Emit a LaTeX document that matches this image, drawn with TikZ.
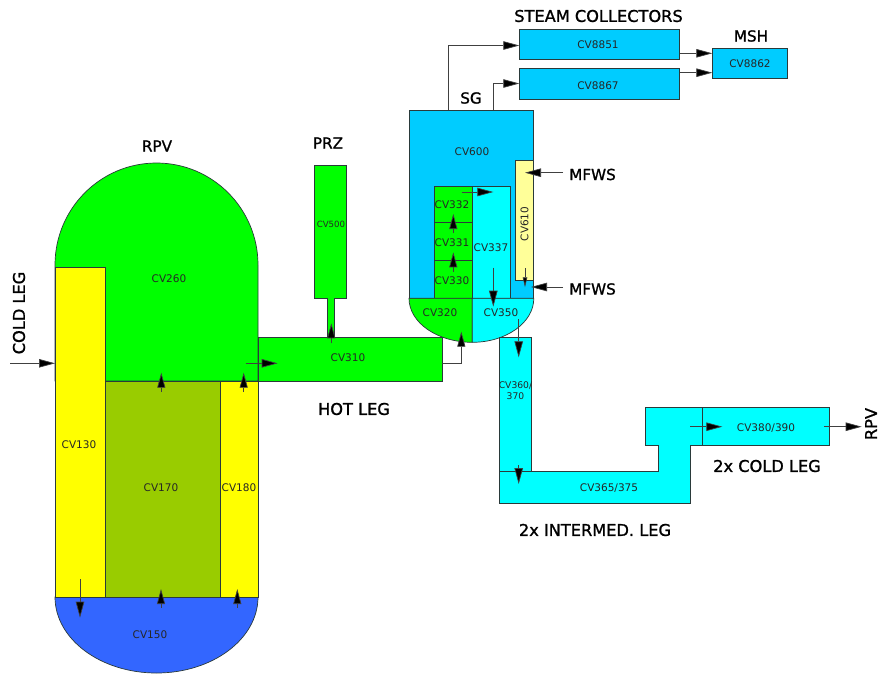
\documentclass[tikz,border=0pt]{standalone}
\usepackage{fontspec}
\setmainfont{DejaVu Sans}
\newfontfamily\headfont[FakeBold=1.2]{DejaVu Sans}
\usetikzlibrary{arrows.meta}
\definecolor{lime}{HTML}{00FF00}
\definecolor{vivid}{HTML}{FFFF00}
\definecolor{olivegreen}{HTML}{99CC00}
\definecolor{corecyan}{HTML}{00FFFF}
\definecolor{skyb}{HTML}{00CCFF}
\definecolor{royal}{HTML}{3366FF}
\definecolor{paleyellow}{HTML}{FFFF99}
\definecolor{edge}{HTML}{2A3A3A}
\tikzset{
  shell/.style={draw=edge,line width=0.7pt,line join=miter},
  cvbox/.style={shell,rectangle,inner sep=0pt,font=\fontsize{10.5}{12}\selectfont,text=black!85,align=center},
  cvlabel/.style={inner sep=0pt,font=\fontsize{10.5}{12}\selectfont,text=black!85,align=center},
  heading/.style={inner sep=0pt,font=\headfont\fontsize{15.2}{18}\selectfont,text=black},
  headlong/.style={inner sep=0pt,font=\headfont\fontsize{16.2}{18}\selectfont,text=black},
  flow/.style={draw=black!75,line width=0.7pt,-{Triangle[length=16pt,width=8.5pt,fill=black]}},
  flowup/.style={draw=black!75,line width=0.7pt,-{Triangle[length=15pt,width=8pt,fill=black]}},
  flowsmall/.style={draw=black!75,line width=0.7pt,-{Triangle[length=10pt,width=4.5pt,fill=black]}},
}
\begin{document}
\begin{tikzpicture}[x=1pt,y=-1pt]
\useasboundingbox (0,0) rectangle (880,675);
% RPV
\path[shell,fill=lime] (55,381) -- (55,265) arc[start angle=180,end angle=0,x radius=101.5pt,y radius=102pt] -- (258,381) -- cycle;
\node[cvlabel] (l260) at (169,279) {CV260};
\path[shell,fill=royal] (55,597) arc[start angle=180,end angle=360,x radius=101.5pt,y radius=76pt] -- cycle;
\node[cvlabel] (l150) at (150,635) {CV150};
\node[cvbox,fill=vivid,minimum width=50pt,minimum height=330pt] (cv130) at (80,432) {};
\node[cvlabel] (l130) at (79,445) {CV130};
\node[cvbox,fill=olivegreen,minimum width=115pt,minimum height=216pt] (cv170) at (162.5,489) {};
\node[cvlabel] (l170) at (161,488) {CV170};
\node[cvbox,fill=vivid,minimum width=38pt,minimum height=216pt] (cv180) at (239,489) {};
\node[cvlabel] (l180) at (239,488) {CV180};
% PRZ
\path[shell,fill=lime] (314.7,165) -- (346.7,165) -- (346.7,298) -- (334.3,298) -- (334.3,337.5) -- (327.3,337.5) -- (327.3,298) -- (314.7,298) -- cycle;
\node[cvlabel,font=\fontsize{8.6}{10}\selectfont] (l500) at (331,224.5) {CV500};
% Hot leg
\node[cvbox,fill=lime,minimum width=184pt,minimum height=44pt] (cv310) at (350,359) {};
\node[cvlabel] (l310) at (348,357.5) {CV310};
% SG
\node[cvbox,fill=skyb,minimum width=124.5pt,minimum height=188pt] (cv600) at (471.3,204.2) {};
\node[cvlabel] (l600) at (472,152) {CV600};
\node[cvbox,fill=paleyellow,minimum width=18pt,minimum height=120pt] (cv610) at (524.7,220) {};
\node[cvlabel,rotate=90] (l610) at (524.5,224) {CV610};
\node[cvbox,fill=lime,minimum width=38.3pt,minimum height=36.3pt] (cv332) at (453.1,204.2) {};
\node[cvlabel] (l332) at (452,204.5) {CV332};
\node[cvbox,fill=lime,minimum width=38.3pt,minimum height=38pt] (cv331) at (453.1,241.3) {};
\node[cvlabel] (l331) at (452,243) {CV331};
\node[cvbox,fill=lime,minimum width=38.3pt,minimum height=38pt] (cv330) at (453.1,279.3) {};
\node[cvlabel] (l330) at (452,281) {CV330};
\node[cvbox,fill=corecyan,minimum width=38pt,minimum height=112.3pt] (cv337) at (491.3,242.2) {};
\node[cvlabel] (l337) at (491,248) {CV337};
\path[shell,fill=lime] (409,298.3) arc[start angle=180,end angle=270,x radius=63.3pt,y radius=44pt] -- (472.3,298.3) -- cycle;
\node[cvlabel] (l320) at (440,312.5) {CV320};
\path[shell,fill=corecyan] (472.3,298.3) -- (472.3,342.3) arc[start angle=270,end angle=360,x radius=61.5pt,y radius=44pt] -- cycle;
\node[cvlabel] (l350) at (501,313) {CV350};
% Steam lines
\node[cvbox,fill=skyb,minimum width=160.5pt,minimum height=30.3pt] (cv8851) at (599.5,44.2) {};
\node[cvlabel] (l8851) at (598,44.5) {CV8851};
\node[cvbox,fill=skyb,minimum width=160.5pt,minimum height=30.7pt] (cv8867) at (599.5,83.6) {};
\node[cvlabel] (l8867) at (598,85.5) {CV8867};
\node[cvbox,fill=skyb,minimum width=75.4pt,minimum height=30.7pt] (cv8862) at (750,63.3) {CV8862};
% Intermediate and cold leg
\node[cvbox,fill=corecyan,minimum width=31.3pt,minimum height=134pt] (cv360) at (515.3,404.7) {};
\node[cvlabel,font=\fontsize{9.2}{10.5}\selectfont] (l360) at (515.5,390.5) {CV360/\\370};
\path[shell,fill=corecyan] (645.3,407.7) -- (702.7,407.7) -- (702.7,445.7) -- (690,445.7) -- (690,503) -- (499.7,503) -- (499.7,471.3) -- (658.3,471.3) -- (658.3,445.7) -- (645.3,445.7) -- cycle;
\node[cvlabel] (l365) at (609,488) {CV365/375};
\node[cvbox,fill=corecyan,minimum width=126.6pt,minimum height=37.6pt] (cv380) at (766,426.5) {};
\node[cvlabel] (l380) at (766,428) {CV380/390};
% Headings
\node[headlong] (hsteam) at (598.5,16) {STEAM COLLECTORS};
\node[heading] (hmsh) at (751,36) {MSH};
\node[heading] (hsg) at (471,98) {SG};
\node[heading] (hrpv) at (157,146) {RPV};
\node[heading] (hprz) at (328,143) {PRZ};
\node[heading] (hmf1) at (592.5,174.5) {MFWS};
\node[heading] (hmf2) at (592.5,289) {MFWS};
\node[headlong] (hhot) at (354,409) {HOT LEG};
\node[headlong] (hcold) at (767,466) {2x COLD LEG};
\node[headlong] (hint) at (595,530) {2x INTERMED. LEG};
\node[headlong,rotate=90] (hcl) at (19,313) {COLD LEG};
\node[headlong,rotate=90] (hr) at (871,424) {RPV};
% Flow ends
\coordinate (a1) at (10,363.3);
\coordinate (a1e) at (55,363.3);
\coordinate (a2) at (161.3,392);
\coordinate (a2e) at (161.3,372.7);
\coordinate (a3) at (243.7,392);
\coordinate (a3e) at (243.7,372.7);
\coordinate (a4) at (245.7,363.3);
\coordinate (a4e) at (277.7,363.3);
\coordinate (a5) at (331.3,343.3);
\coordinate (a5e) at (331.3,323.3);
\coordinate (a6) at (442,363.3);
\coordinate (a6m) at (461.3,363.3);
\coordinate (a6e) at (461.3,331.7);
\coordinate (a7) at (518.7,319);
\coordinate (a7e) at (518.7,357.3);
\coordinate (a8) at (518.7,465);
\coordinate (a8e) at (518.7,484);
\coordinate (a9) at (690,426.7);
\coordinate (a9e) at (722.3,426.7);
\coordinate (a10) at (824,426.7);
\coordinate (a10e) at (861.7,426.7);
\coordinate (a11) at (80,579);
\coordinate (a11e) at (80,617.7);
\coordinate (a12) at (161,607.7);
\coordinate (a12e) at (161,589);
\coordinate (a13) at (237.3,607.7);
\coordinate (a13e) at (237.3,589);
\coordinate (a14) at (461.7,192);
\coordinate (a14e) at (493.3,192);
\coordinate (a15) at (453.3,233);
\coordinate (a15e) at (453.3,214);
\coordinate (a16) at (453.3,271.7);
\coordinate (a16e) at (453.3,252.3);
\coordinate (a17) at (493.3,267.7);
\coordinate (a17e) at (493.3,306.7);
\coordinate (a18) at (563,172.7);
\coordinate (a18e) at (525,172.7);
\coordinate (a19) at (563,287);
\coordinate (a19e) at (531,287);
\coordinate (a20) at (525,268);
\coordinate (a20e) at (525,287.3);
\coordinate (s1) at (448.5,110.2);
\coordinate (s1m) at (448.5,45.5);
\coordinate (s1e) at (519.3,45.5);
\coordinate (s2) at (493,110.2);
\coordinate (s2m) at (493,83.5);
\coordinate (s2e) at (519.3,83.5);
\coordinate (s3) at (679.8,53.3);
\coordinate (s3e) at (712.3,53.3);
\coordinate (s4) at (679.8,72.7);
\coordinate (s4e) at (712.3,72.7);
% Flows
\draw[flow] (a1) -- (a1e);
\draw[flowup] (a2) -- (a2e);
\draw[flowup] (a3) -- (a3e);
\draw[flow] (a4) -- (a4e);
\draw[flowup] (a5) -- (a5e);
\draw[flowup] (a6) -- (a6m) -- (a6e);
\draw[flow] (a7) -- (a7e);
\draw[flow] (a8) -- (a8e);
\draw[flow] (a9) -- (a9e);
\draw[flow] (a10) -- (a10e);
\draw[flow] (a11) -- (a11e);
\draw[flowup] (a12) -- (a12e);
\draw[flowup] (a13) -- (a13e);
\draw[flow] (a14) -- (a14e);
\draw[flowup] (a15) -- (a15e);
\draw[flowup] (a16) -- (a16e);
\draw[flow] (a17) -- (a17e);
\draw[flow] (a18) -- (a18e);
\draw[flow] (a19) -- (a19e);
\draw[flowsmall] (a20) -- (a20e);
\draw[flow] (s1) -- (s1m) -- (s1e);
\draw[flow] (s2) -- (s2m) -- (s2e);
\draw[flow] (s3) -- (s3e);
\draw[flow] (s4) -- (s4e);
\end{tikzpicture}
\end{document}
